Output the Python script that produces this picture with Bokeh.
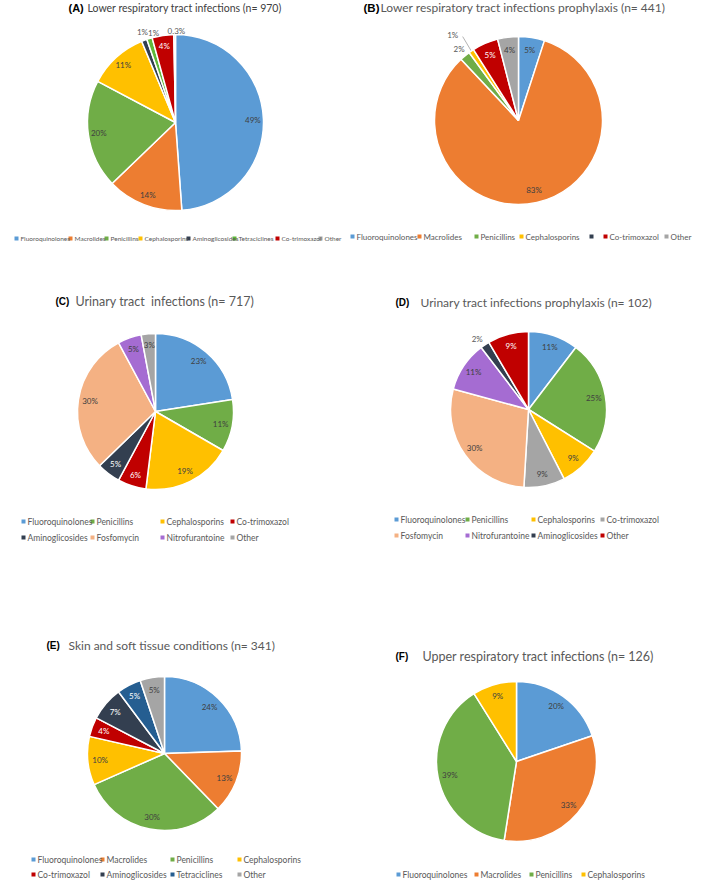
import math
from bokeh.plotting import figure
from bokeh.models import Range1d, ColumnDataSource
from bokeh.core.properties import value
from bokeh.embed import file_html
from bokeh.resources import INLINE

# ---------------- data ----------------
a_cats = ["Fluoroquinolones", "Macrolides", "Penicillins", "Cephalosporins",
          "Aminoglicosides", "Tetraciclines", "Co-trimoxazol", "Other"]
a_vals = [49, 14, 20, 11, 1, 1, 4, 0.3]

b_cats = ["Fluoroquinolones", "Macrolides", "Penicillins", "Cephalosporins",
          "", "Co-trimoxazol", "Other"]
b_vals = [5, 83, 2, 1, 0, 5, 4]

c_cats = ["Fluoroquinolones", "Penicillins", "Cephalosporins", "Co-trimoxazol",
          "Aminoglicosides", "Fosfomycin", "Nitrofurantoine", "Other"]
c_vals = [23, 11, 19, 6, 5, 30, 5, 3]

d_cats = ["Fluoroquinolones", "Penicillins", "Cephalosporins", "Co-trimoxazol",
          "Fosfomycin", "Nitrofurantoine", "Aminoglicosides", "Other"]
d_vals = [11, 25, 9, 9, 30, 11, 2, 9]

e_cats = ["Fluoroquinolones", "Macrolides", "Penicillins", "Cephalosporins",
          "Co-trimoxazol", "Aminoglicosides", "Tetraciclines", "Other"]
e_vals = [24, 13, 30, 10, 4, 7, 5, 5]

f_cats = ["Fluoroquinolones", "Macrolides", "Penicillins", "Cephalosporins"]
f_vals = [20, 33, 39, 9]

titles = [
    ("(A)", "Lower respiratory tract infections (n= 970)"),
    ("(B)", "Lower respiratory tract infections prophylaxis (n= 441)"),
    ("(C)", "Urinary tract\u00a0 infections (n= 717)"),
    ("(D)", "Urinary tract infections prophylaxis (n= 102)"),
    ("(E)", "Skin and soft tissue conditions (n= 341)"),
    ("(F)", "Upper respiratory tract infections (n= 126)"),
]

# ---------------- styles ----------------
BLUE, ORANGE, GREEN, YELLOW = "#5B9BD5", "#ED7D31", "#70AD47", "#FFC000"
DARK, RED, GREY = "#333F50", "#C00000", "#A5A5A5"
SALMON, PURPLE, NAVY = "#F4B183", "#A56CD2", "#255E91"
WHITE_TEXT = {DARK, RED, NAVY}

a_cols = [BLUE, ORANGE, GREEN, YELLOW, DARK, "#5FB83A", RED, GREY]
b_cols = [BLUE, ORANGE, GREEN, YELLOW, DARK, RED, GREY]
c_cols = [BLUE, GREEN, YELLOW, RED, DARK, SALMON, PURPLE, GREY]
d_cols = [BLUE, GREEN, YELLOW, GREY, SALMON, PURPLE, DARK, RED]
e_cols = [BLUE, ORANGE, GREEN, YELLOW, RED, DARK, NAVY, GREY]
f_cols = [BLUE, ORANGE, GREEN, YELLOW]

panels = [
    dict(cats=a_cats, vals=a_vals, cols=a_cols, title=titles[0], cx=183, cy=130, r=88,
         tb=(76, 95, 15, "11px", "10.5px", "#404040"), lf=0.88,
         over={4: (1.09, 0.7), 5: (1.05, 3.5), 7: (1.045, 1.1)}, leader=[],
         leg_x=[24, 78, 114, 148, 196, 242, 285, 328], leg_y=[246] * 8, leg_fs="6.5px"),
    dict(cats=b_cats, vals=b_vals, cols=b_cols, title=titles[1], cx=526, cy=128, r=84,
         tb=(371, 388, 15, "11.5px", "12px", "#595959"), lf=0.85,
         over={2: (1.11, 0), 3: (1.28, -3.5)}, leader=[3],
         leg_x=[360, 427, 484, 529, 599, 613, 674], leg_y=[244] * 7, leg_fs="8px"),
    dict(cats=c_cats, vals=c_vals, cols=c_cols, title=titles[2], cx=163, cy=419, r=78,
         tb=(63, 83, 309, "10px", "12.5px", "#595959"), lf=0.85, over={}, leader=[],
         leg_x=[31, 100, 170, 240] * 2, leg_y=[529] * 4 + [545] * 4, leg_fs="8.5px"),
    dict(cats=d_cats, vals=d_vals, cols=d_cols, title=titles[3], cx=536, cy=417, r=78,
         tb=(403, 428, 310, "10px", "12px", "#595959"), lf=0.85,
         over={6: (1.12, -2)}, leader=[],
         leg_x=[404, 475, 541, 610] * 2, leg_y=[527] * 4 + [543] * 4, leg_fs="8.5px"),
    dict(cats=e_cats, vals=e_vals, cols=e_cols, title=titles[4], cx=172, cy=761, r=77,
         tb=(54, 76, 653, "10px", "12px", "#595959"), lf=0.84, over={}, leader=[],
         leg_x=[41, 110, 180, 247] * 2, leg_y=[867] * 4 + [882] * 4, leg_fs="8.5px"),
    dict(cats=f_cats, vals=f_vals, cols=f_cols, title=titles[5], cx=524, cy=769, r=80,
         tb=(403, 430, 664, "10px", "12.5px", "#595959"), lf=0.85, over={}, leader=[],
         leg_x=[406, 484, 539, 591], leg_y=[882] * 4, leg_fs="8.5px"),
]

# ---------------- figure ----------------
p = figure(width=693, height=880, x_range=Range1d(8, 701), y_range=Range1d(-888, -8),
           output_backend="svg", toolbar_location=None, min_border=0,
           x_axis_location=None, y_axis_location=None)
p.grid.visible = False
p.outline_line_color = None
p.background_fill_color = "white"

LBL_FONT = value("Lato")

for pn in panels:
    vals, cats, cols = pn["vals"], pn["cats"], pn["cols"]
    total = sum(vals)
    cx, cy, r = pn["cx"], pn["cy"], pn["r"]
    starts, ends, fills = [], [], []
    lx, ly, lt, lc = [], [], [], []
    cum = 0.0
    for i, v in enumerate(vals):
        a0 = 2 * math.pi * cum / total
        a1 = 2 * math.pi * (cum + v) / total
        mid = (a0 + a1) / 2
        cum += v
        if v <= 0:
            continue
        starts.append(math.pi / 2 - a0)
        ends.append(math.pi / 2 - a1)
        fills.append(cols[i])
        f, nudge = pn["over"].get(i, (pn["lf"], 0))
        th = mid + math.radians(nudge)
        lx.append(cx + f * r * math.sin(th))
        ly.append(-(cy - f * r * math.cos(th)))
        lt.append(f"{v:g}%")
        if i in pn["over"]:
            lc.append("#595959")
        else:
            lc.append("white" if cols[i] in WHITE_TEXT else "#404040")
        if i in pn["leader"]:
            p.line([cx + 1.0 * r * math.sin(mid), cx + 1.2 * r * math.sin(mid + 0.01)],
                   [-(cy - 1.0 * r * math.cos(mid)), -(cy - 1.2 * r * math.cos(mid + 0.01))],
                   line_color="#A0A0A0", line_width=0.8)
    src = ColumnDataSource(dict(start=starts, end=ends, color=fills))
    p.wedge(x=cx, y=-cy, radius=r, start_angle="start", end_angle="end",
            direction="clock", fill_color="color", line_color="white",
            line_width=1.5, source=src)
    lsrc = ColumnDataSource(dict(x=lx, y=ly, t=lt, c=lc))
    p.text(x="x", y="y", text="t", text_color="c", source=lsrc,
           text_font=LBL_FONT, text_font_size="8px",
           text_align="center", text_baseline="middle")

    # title
    bx, tx, ty, bfs, tfs, tcol = pn["tb"]
    p.text(x=[bx], y=[-ty], text=[pn["title"][0]], text_font=value("Liberation Sans"),
           text_font_style="bold", text_font_size=bfs, text_color="black",
           text_baseline="middle")
    p.text(x=[tx], y=[-ty], text=[pn["title"][1]], text_font=value("Lato"),
           text_font_size=tfs, text_color=tcol, text_baseline="middle")

    # legend
    my = [-y for y in pn["leg_y"]]
    p.scatter(x=pn["leg_x"], y=my, marker="square", size=4,
              fill_color=cols, line_color=None)
    p.text(x=[x + 4 for x in pn["leg_x"]], y=my, text=cats,
           text_font=value("Lato"), text_font_size=pn["leg_fs"],
           text_color="#595959", text_baseline="middle")

open("out.html", "w").write(file_html(p, INLINE))
